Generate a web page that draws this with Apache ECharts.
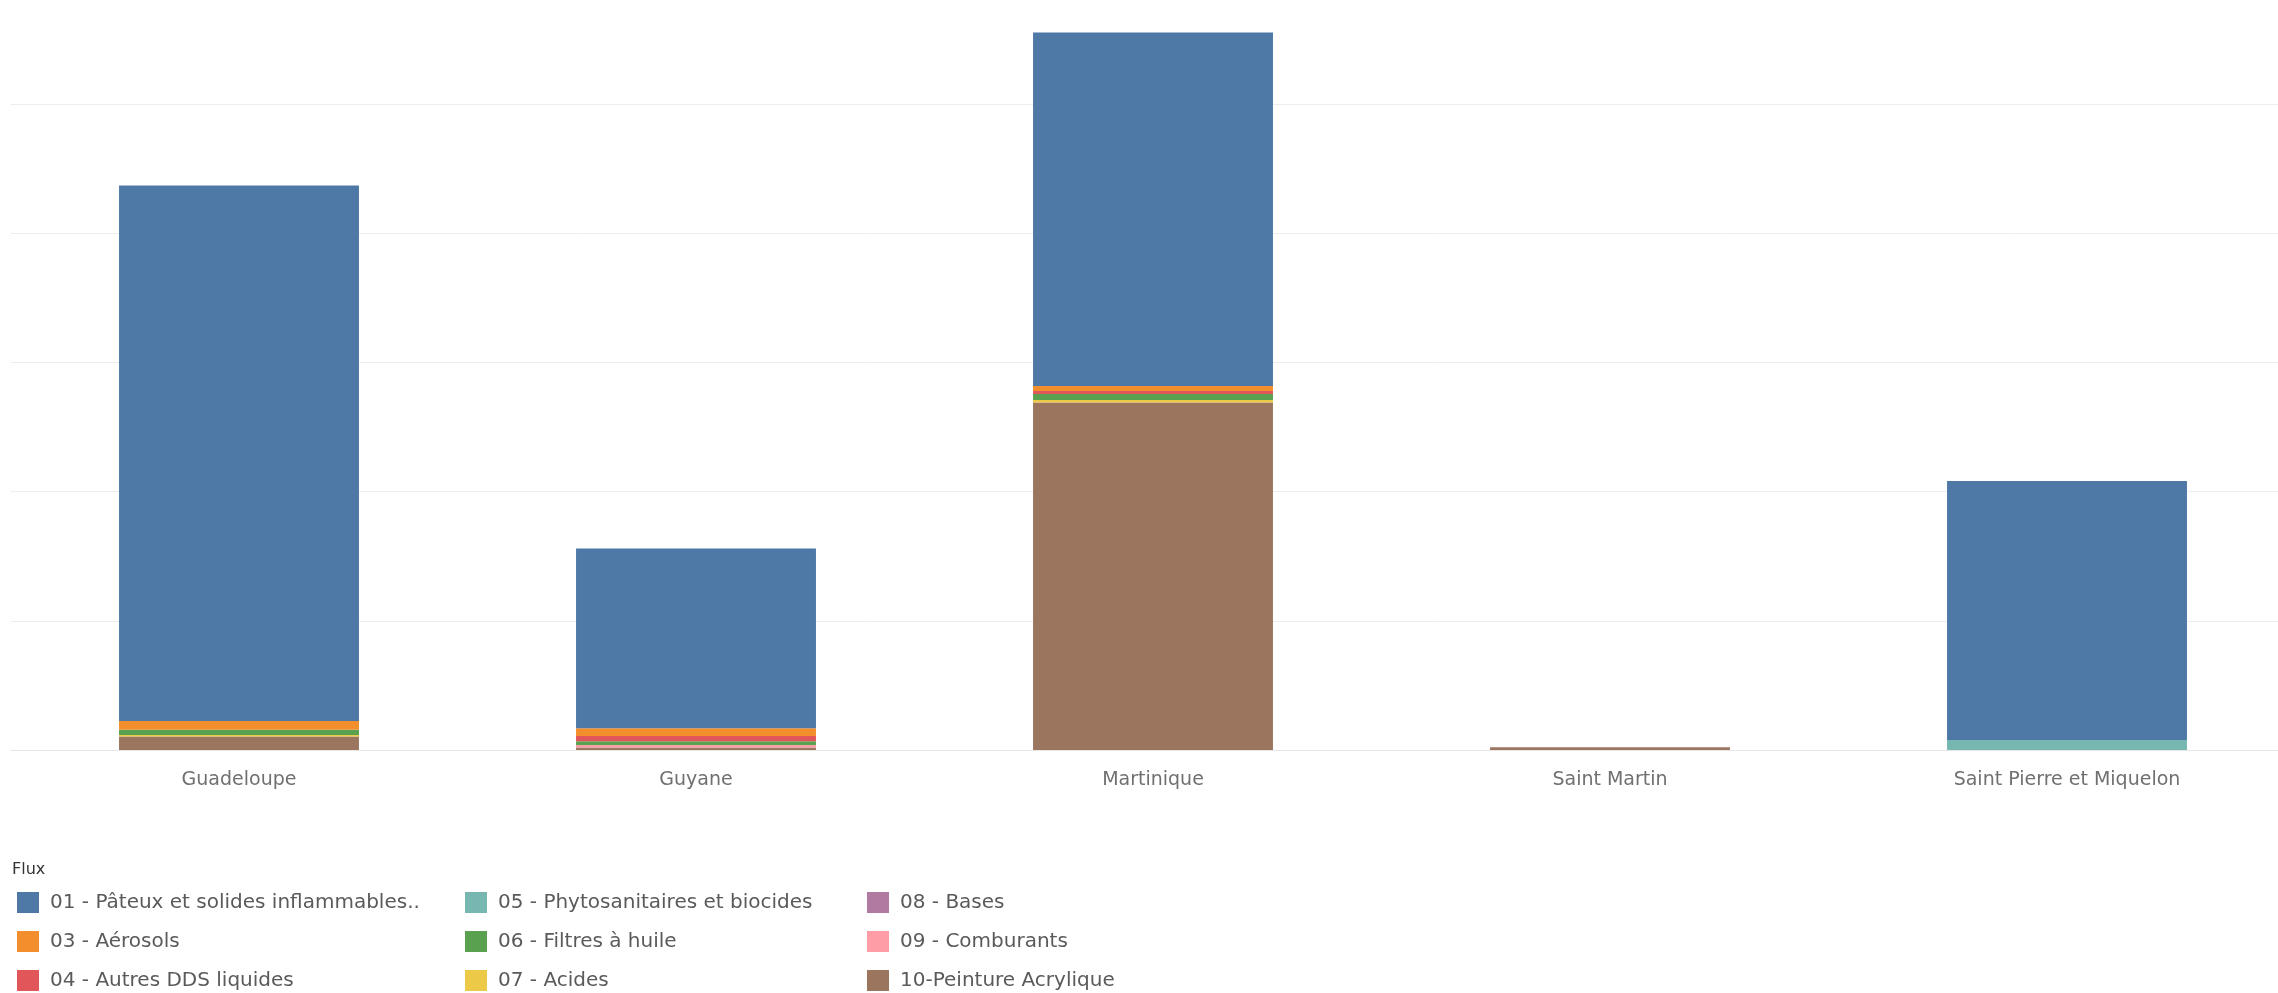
<!DOCTYPE html>
<html>
<head>
<meta charset="utf-8">
<script src="https://cdn.jsdelivr.net/npm/echarts@6/dist/echarts.min.js"></script>
<style>
html,body{margin:0;padding:0;background:#fff;overflow:hidden;}
#chart{width:2300px;height:993px;}
</style>
</head>
<body>
<div id="chart"></div>
<script>
// Categories (territories)
const categories = ['Guadeloupe', 'Guyane', 'Martinique', 'Saint Martin', 'Saint Pierre et Miquelon'];

// Series names (Flux)
const fluxNames = [
  '01 - Pâteux et solides inflammables..',
  '03 - Aérosols',
  '04 - Autres DDS liquides',
  '05 - Phytosanitaires et biocides',
  '06 - Filtres à huile',
  '07 - Acides',
  '08 - Bases',
  '09 - Comburants',
  '10-Peinture Acrylique'
];

// Values per flux, one per category (arbitrary units)
const v01 = [4146, 1391, 2735, 0, 2005];
const v03 = [67, 60, 39, 0, 0];
const v04 = [0, 40, 23, 0, 0];
const v05 = [0, 0, 0, 0, 77];
const v06 = [40, 30, 46, 0, 0];
const v07 = [12, 0, 20, 0, 0];
const v08 = [0, 0, 0, 0, 0];
const v09 = [0, 18, 0, 0, 0];
const v10 = [105, 20, 2690, 22, 0];

const fluxValues = [v01, v03, v04, v05, v06, v07, v08, v09, v10];
const fluxColors = ['#4E79A7', '#F28E2B', '#E15759', '#76B7B2', '#59A14F', '#EDC948', '#B07AA1', '#FF9DA7', '#9C755F'];

// Build series: stacking bottom-up from 10 to 01
const order = [8, 7, 6, 5, 4, 3, 2, 1, 0];
const series = order.map(i => ({
  name: fluxNames[i],
  type: 'bar',
  stack: 'total',
  barWidth: '52.5%',
  itemStyle: { color: fluxColors[i] },
  emphasis: { disabled: true },
  data: fluxValues[i]
}));

const FONT = 'DejaVu Sans';
const legendBase = {
  orient: 'vertical',
  icon: 'rect',
  itemWidth: 22,
  itemHeight: 21,
  itemGap: 18,
  padding: 0,
  height: 120,
  selectedMode: false,
  textStyle: { fontFamily: FONT, fontSize: 20, color: '#5a5a5a', padding: [0, 0, 0, 6] }
};

const chart = echarts.init(document.getElementById('chart'));
chart.setOption({
  animation: false,
  backgroundColor: '#fff',
  title: {
    text: 'Flux', left: 12, top: 862,
    padding: 0,
    textStyle: { fontFamily: FONT, fontSize: 16, fontWeight: 'normal', color: '#333' }
  },
  legend: [
    Object.assign({}, legendBase, { left: 17, top: 892, data: [fluxNames[0], fluxNames[1], fluxNames[2]] }),
    Object.assign({}, legendBase, { left: 465, top: 892, data: [fluxNames[3], fluxNames[4], fluxNames[5]] }),
    Object.assign({}, legendBase, { left: 867, top: 892, data: [fluxNames[6], fluxNames[7], fluxNames[8]] })
  ],
  grid: { left: 10.5, top: 26.5, right: 4.5, bottom: 243, containLabel: false },
  xAxis: {
    type: 'category',
    data: categories,
    axisTick: { show: false },
    axisLine: { show: true, lineStyle: { color: '#e6e6e6', width: 1 } },
    axisLabel: { fontFamily: FONT, fontSize: 19, color: '#707070', margin: 21 }
  },
  yAxis: {
    type: 'value',
    min: 0,
    max: 5600,
    interval: 1000,
    axisLabel: { show: false },
    axisLine: { show: false },
    axisTick: { show: false },
    splitLine: { show: true, showMaxLine: false, lineStyle: { color: '#ededed', width: 1 } }
  },
  series: series
});
</script>
</body>
</html>
